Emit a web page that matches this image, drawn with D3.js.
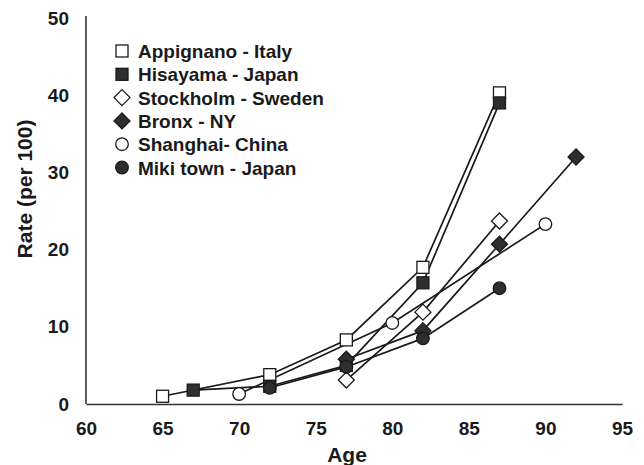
<!DOCTYPE html>
<html><head><meta charset="utf-8">
<script src="https://cdn.jsdelivr.net/npm/d3@7/dist/d3.min.js"></script>
<style>body{margin:0;background:#fff}svg{display:block}text{font-family:"Liberation Sans",Arial,sans-serif;font-weight:bold;fill:#1a1a1a}</style>
</head><body><svg id="c" width="644" height="465"></svg>
<script>
const seriesNames = ["Appignano - Italy","Hisayama - Japan","Stockholm - Sweden","Bronx - NY","Shanghai- China","Miki town - Japan"];
const markerShapes = ["square","square","diamond","diamond","circle","circle"];
const markerFilled = [false,true,false,true,false,true];
const appignano = [[65,1.0],[72,3.8],[77,8.3],[82,17.7],[87,40.3]];
const hisayama  = [[67,1.8],[72,2.3],[77,5.0],[82,15.7],[87,39.0]];
const stockholm = [[77,3.1],[82,11.9],[87,23.7]];
const bronx     = [[77,5.8],[82,9.5],[87,20.7],[92,32.0]];
const shanghai  = [[70,1.3],[80,10.5],[90,23.3]];
const miki      = [[72,2.1],[77,4.8],[82,8.5],[87,15.0]];
const seriesData = [appignano,hisayama,stockholm,bronx,shanghai,miki];
const xTicks = [60,65,70,75,80,85,90,95];
const yTicks = [0,10,20,30,40,50];

const svg = d3.select("#c");
const x = d3.scaleLinear().domain([60,95]).range([86,622]);
const y = d3.scaleLinear().domain([0,50]).range([404,18]);
const ink = "#1a1a1a", fillDark = "#2e2e2e";

// axes
const xAxis = svg.append("g").attr("transform","translate(0,404)")
  .call(d3.axisBottom(x).tickValues(xTicks).tickSize(0).tickPadding(18).tickSizeOuter(0));
xAxis.select(".domain").attr("stroke","#333").attr("stroke-width",1.6);
xAxis.selectAll("text").attr("font-size",19).attr("fill",ink);
const yAxis = svg.append("g").attr("transform","translate(86,0)")
  .call(d3.axisLeft(y).tickValues(yTicks).tickSize(0).tickPadding(17).tickSizeOuter(0));
yAxis.select(".domain").attr("stroke","#333").attr("stroke-width",1.6).attr("d","M0,16V404");
yAxis.selectAll("text").attr("font-size",19).attr("fill",ink);

svg.append("text").attr("x",347).attr("y",462).attr("text-anchor","middle").attr("font-size",21).text("Age");
svg.append("text").attr("transform","translate(32,189) rotate(-90)").attr("text-anchor","middle").attr("font-size",21).text("Rate (per 100)");

const line = d3.line().x(d=>x(d[0])).y(d=>y(d[1]));
seriesData.forEach(s=>{
  svg.append("path").attr("d",line(s)).attr("fill","none").attr("stroke",ink).attr("stroke-width",1.7);
});

function marker(g, shape, filled, cx, cy){
  const fill = filled ? fillDark : "#fff";
  if(shape==="square"){
    g.append("rect").attr("x",cx-6).attr("y",cy-6).attr("width",12).attr("height",12)
     .attr("fill",fill).attr("stroke",ink).attr("stroke-width",1.3);
  } else if(shape==="diamond"){
    g.append("path").attr("d",`M${cx},${cy-8}L${cx+8},${cy}L${cx},${cy+8}L${cx-8},${cy}Z`)
     .attr("fill",fill).attr("stroke",ink).attr("stroke-width",1.3);
  } else {
    g.append("circle").attr("cx",cx).attr("cy",cy).attr("r",6.3)
     .attr("fill",fill).attr("stroke",ink).attr("stroke-width",1.3);
  }
}
const mg = svg.append("g");
seriesData.forEach((s,i)=>{
  s.forEach(d=>marker(mg, markerShapes[i], markerFilled[i], x(d[0]), y(d[1])));
});

// legend
const lg = svg.append("g");
seriesNames.forEach((n,i)=>{
  const cy = 51 + i*23.3;
  marker(lg, markerShapes[i], markerFilled[i], 122, cy);
  lg.append("text").attr("x",138).attr("y",cy+7).attr("font-size",19).text(n);
});
</script></body></html>
